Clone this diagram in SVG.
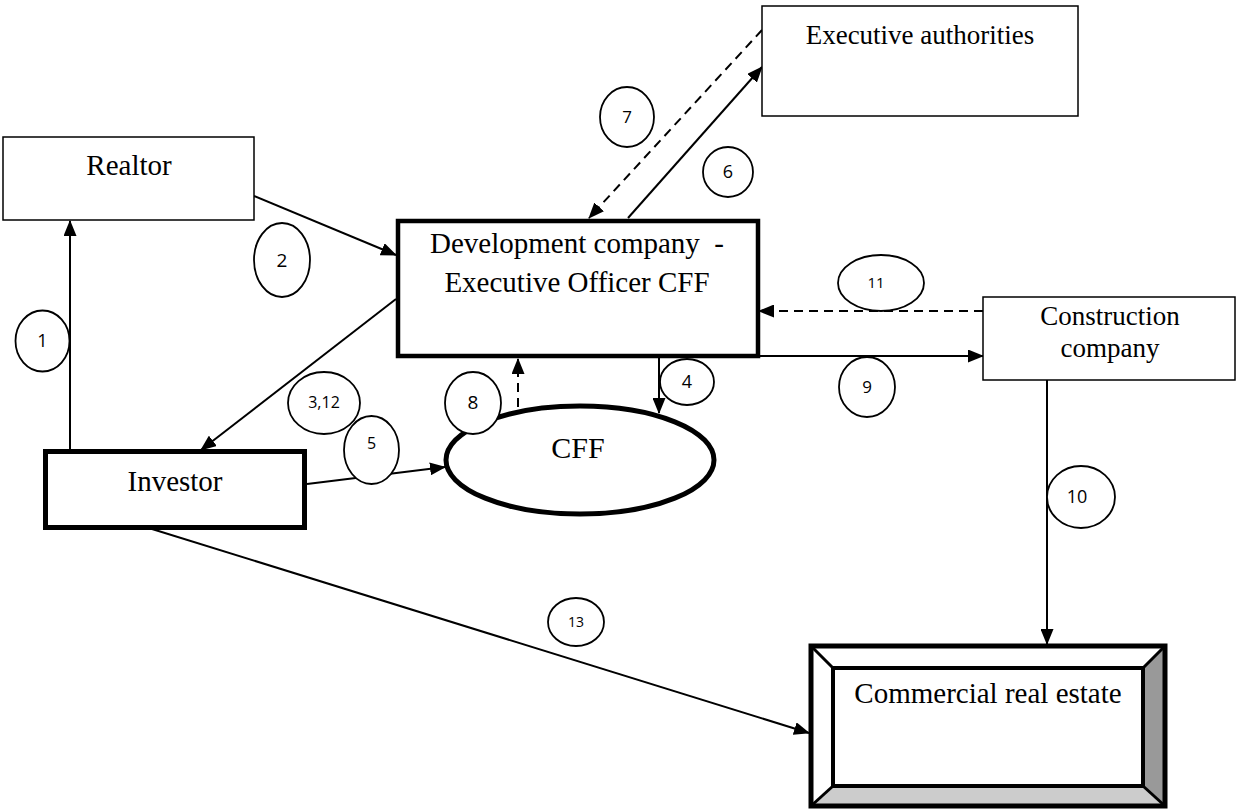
<svg xmlns="http://www.w3.org/2000/svg" width="1236" height="809" viewBox="0 0 1236 809">
<style>
.box{fill:#fff;stroke:#000;stroke-width:1.5}
.thick{fill:#fff;stroke:#000;stroke-width:5}
.dev{fill:#fff;stroke:#000;stroke-width:4.5}
.t{font-family:"Liberation Serif","Times New Roman",serif;fill:#000;text-anchor:middle}
.c{fill:#fff;stroke:#000;stroke-width:1.8}
.n{font-family:"Open Sans","Liberation Sans",sans-serif;fill:#000;text-anchor:middle}
.ln{stroke:#000;stroke-width:2;fill:none;marker-end:url(#ah)}
.dash{stroke-dasharray:9,6}
</style>
<defs>
<marker id="ah" markerUnits="userSpaceOnUse" markerWidth="16" markerHeight="13" refX="15" refY="6.5" orient="auto">
<path d="M0,0 L16,6.5 L0,13 z" fill="#000"/>
</marker>
</defs>
<rect width="1236" height="809" fill="#fff"/>

<g id="connectors">
<line class="ln" x1="70" y1="449" x2="70" y2="221"/>
<line class="ln" x1="254" y1="196" x2="396" y2="255"/>
<line class="ln" x1="396" y1="299" x2="201" y2="450"/>
<line class="ln" x1="659" y1="358" x2="659" y2="413"/>
<line class="ln" x1="307" y1="484" x2="445" y2="467"/>
<line class="ln" x1="628" y1="218" x2="762" y2="67"/>
<line class="ln dash" x1="762" y1="30" x2="589" y2="218"/>
<line class="ln dash" x1="518" y1="407" x2="518" y2="359"/>
<line class="ln" x1="758" y1="356" x2="983" y2="356"/>
<line class="ln" x1="1047" y1="380" x2="1047" y2="644"/>
<line class="ln dash" x1="983" y1="311" x2="759" y2="311"/>
<line class="ln" x1="152" y1="529" x2="809" y2="733"/>
</g>

<g id="realtor">
<rect class="box" x="3" y="137" width="251" height="83"/>
<text class="t" x="129" y="175" font-size="29">Realtor</text>
</g>

<g id="executive-authorities">
<rect class="box" x="762" y="6" width="316" height="110"/>
<text class="t" x="920" y="44" font-size="27">Executive authorities</text>
</g>

<g id="development-company">
<rect class="dev" x="398" y="221" width="360" height="135"/>
<text class="t" x="577" y="253" font-size="29" style="white-space:pre" xml:space="preserve">Development company  -</text>
<text class="t" x="577" y="292" font-size="29">Executive Officer CFF</text>
</g>

<g id="construction-company">
<rect class="box" x="983" y="297" width="252" height="83"/>
<text class="t" x="1110" y="325" font-size="27">Construction</text>
<text class="t" x="1110" y="357" font-size="27">company</text>
</g>

<g id="investor">
<rect class="thick" x="45.5" y="451.5" width="259" height="76"/>
<text class="t" x="175" y="491" font-size="29">Investor</text>
</g>

<g id="cff">
<ellipse class="thick" cx="580" cy="460" rx="134" ry="54"/>
<text class="t" x="578" y="458" font-size="30">CFF</text>
</g>

<g id="commercial-real-estate">
<rect x="811" y="646" width="354" height="160" fill="#fff"/>
<polygon points="1165,646 1165,806 1143,786 1143,668" fill="#999"/>
<polygon points="811,806 1165,806 1143,786 833,786" fill="#ccc"/>
<rect x="811" y="646" width="354" height="160" fill="none" stroke="#000" stroke-width="5"/>
<rect x="833" y="668" width="310" height="118" fill="#fff" stroke="#000" stroke-width="4"/>
<line x1="811" y1="646" x2="833" y2="668" stroke="#000" stroke-width="3"/>
<line x1="1165" y1="646" x2="1143" y2="668" stroke="#000" stroke-width="3"/>
<line x1="811" y1="806" x2="833" y2="786" stroke="#000" stroke-width="3"/>
<line x1="1165" y1="806" x2="1143" y2="786" stroke="#000" stroke-width="3"/>
<text class="t" x="988" y="703" font-size="29">Commercial real estate</text>
</g>

<g id="label-1"><ellipse class="c" cx="42.5" cy="341" rx="27" ry="30.5"/><text class="n" x="42.5" y="347" font-size="18">1</text></g>
<g id="label-2"><ellipse class="c" cx="282" cy="260" rx="28" ry="37"/><text class="n" x="282" y="267" font-size="19">2</text></g>
<g id="label-3-12"><ellipse class="c" cx="324" cy="403" rx="36" ry="31"/><text class="n" x="324" y="408" font-size="16">3,12</text></g>
<g id="label-4"><ellipse class="c" cx="687" cy="382" rx="27" ry="23"/><text class="n" x="687" y="388" font-size="18">4</text></g>
<g id="label-5"><ellipse class="c" cx="371.5" cy="450" rx="27.5" ry="34"/><text class="n" x="371.5" y="449" font-size="16">5</text></g>
<g id="label-6"><ellipse class="c" cx="728" cy="172" rx="25" ry="25"/><text class="n" x="728" y="178" font-size="18">6</text></g>
<g id="label-7"><ellipse class="c" cx="627" cy="117" rx="27" ry="30"/><text class="n" x="627" y="123" font-size="17">7</text></g>
<g id="label-8"><ellipse class="c" cx="473" cy="403" rx="28" ry="31"/><text class="n" x="473" y="409" font-size="19">8</text></g>
<g id="label-9"><ellipse class="c" cx="867" cy="387" rx="28" ry="30"/><text class="n" x="867" y="393" font-size="17">9</text></g>
<g id="label-10"><ellipse class="c" cx="1081" cy="497" rx="34" ry="31"/><text class="n" x="1077" y="503" font-size="18">10</text></g>
<g id="label-11"><ellipse class="c" cx="881" cy="283" rx="43" ry="28"/><text class="n" x="876" y="288" font-size="15">11</text></g>
<g id="label-13"><ellipse class="c" cx="576" cy="622" rx="28" ry="24"/><text class="n" x="576" y="627" font-size="14">13</text></g>
</svg>
